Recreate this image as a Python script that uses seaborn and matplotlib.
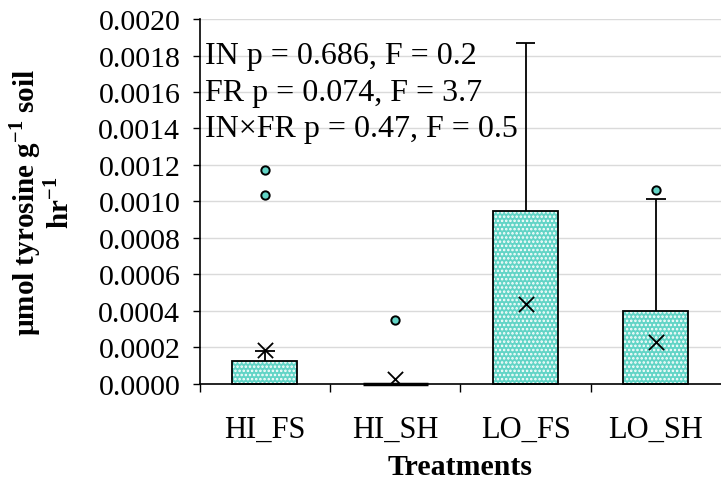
import matplotlib
matplotlib.use("Agg")
import matplotlib.pyplot as plt
from matplotlib.patches import Rectangle
from matplotlib.ticker import FormatStrFormatter
import numpy as np
import pandas as pd
import seaborn as sns


categories = ["HI_FS", "HI_SH", "LO_FS", "LO_SH"]
# boxes all start at zero (Q1 = median = 0), top is Q3
box_top = [0.000124, 0.0, 0.00095, 0.000402]
whisker_top = [0.00018, 0.0, 0.00187, 0.001014]
means = [0.000188, 0.000027, 0.000438, 0.000232]
outlier_group = ["HI_FS", "HI_FS", "HI_SH", "LO_SH"]
outlier_values = [0.001173, 0.001036, 0.000351, 0.001063]

stats_lines = [
    "IN p = 0.686, F = 0.2",
    "FR p = 0.074, F = 3.7",
    "IN\u00d7FR p = 0.47, F = 0.5",
]
stats_y = [0.0018, 0.0016, 0.0014]

FILL = "#62d4c6"


def main() -> None:
    sns.set_theme(style="white")
    plt.rcParams["font.family"] = ["Liberation Serif", "DejaVu Serif"]
    plt.rcParams["mathtext.fontset"] = "custom"
    plt.rcParams["mathtext.rm"] = "Liberation Serif"
    plt.rcParams["mathtext.bf"] = "Liberation Serif:bold"
    plt.rcParams["hatch.linewidth"] = 1.2
    for key in ("text.color", "axes.labelcolor", "xtick.color", "ytick.color"):
        plt.rcParams[key] = "black"

    boxes = pd.DataFrame({"treatment": categories, "q3": box_top})
    pos = {c: i for i, c in enumerate(categories)}
    outliers = pd.DataFrame(
        {"x": [pos[c] for c in outlier_group], "value": outlier_values}
    )
    mean_df = pd.DataFrame({"x": [pos[c] for c in categories], "mean": means})

    fig, ax = plt.subplots(figsize=(7.21, 4.89), dpi=100)
    fig.subplots_adjust(left=0.277, right=1.0, bottom=0.213, top=0.959)

    sns.barplot(
        data=boxes, x="treatment", y="q3", width=0.5, color=FILL,
        saturation=1, edgecolor="white", linewidth=0, hatch="....", ax=ax,
        zorder=2,
    )
    for p in list(ax.patches):
        # a collapsed box (all zeros) shows as a heavier line on the axis
        lw = 2.5 if p.get_height() == 0 else 1.3
        ax.add_patch(Rectangle(p.get_xy(), p.get_width(), p.get_height(),
                               fill=False, edgecolor="black", lw=lw, zorder=3,
                               clip_on=False))

    xs = np.arange(len(categories))
    wt = np.array(whisker_top)
    bt = np.array(box_top)
    has = wt > bt
    ax.vlines(xs[has], bt[has], wt[has], color="black", lw=1.3, zorder=3)
    ax.hlines(wt[has], xs[has] - 0.075, xs[has] + 0.075, color="black",
              lw=1.3, zorder=3)

    sns.scatterplot(data=outliers, x="x", y="value", s=36, color=FILL,
                    edgecolor="black", linewidth=1.4, zorder=4, ax=ax)
    sns.scatterplot(data=mean_df, x="x", y="mean", marker="x", s=120,
                    color="black", linewidth=1.3, zorder=5, ax=ax)

    for line, y in zip(stats_lines, stats_y):
        ax.text(-0.46, y, line, fontsize=23, va="center", ha="left", zorder=6)

    ax.set_xlim(-0.5, 3.5)
    ax.set_ylim(0, 0.002)
    ax.set_yticks(np.arange(0, 0.00201, 0.0002))
    ax.yaxis.set_major_formatter(FormatStrFormatter("%.4f"))
    ax.set_xticks(xs)
    ax.set_xticklabels(categories)
    ax.set_xticks(np.arange(-0.5, 3.0, 1.0), minor=True)
    ax.tick_params(axis="x", which="major", length=0, labelsize=22, pad=22)
    ax.tick_params(axis="x", which="minor", length=6, width=1, direction="out",
                   color="black", bottom=True)
    ax.tick_params(axis="y", length=5, width=1, direction="out", color="black",
                   labelsize=21.5, pad=9, left=True)

    ax.yaxis.grid(True, color="#dadada", lw=1)
    ax.set_axisbelow(True)
    sns.despine(ax=ax)
    for side in ("left", "bottom"):
        ax.spines[side].set_color("black")
        ax.spines[side].set_linewidth(1.2)

    ax.set_xlabel("Treatments", fontsize=21.5, fontweight="bold")
    ax.xaxis.set_label_coords(0.5, -0.19)
    ax.set_ylabel("\u00b5mol tyrosine g$^{\\mathbf{-1}}$ soil\nhr$^{\\mathbf{-1}}$",
                  fontsize=21, fontweight="bold", linespacing=1.05,
                  va="center", ha="center")
    ax.yaxis.set_label_coords(-0.305, 0.5)

    fig.savefig("out.png", dpi=100)
    plt.close(fig)


if __name__ == "__main__":
    main()
